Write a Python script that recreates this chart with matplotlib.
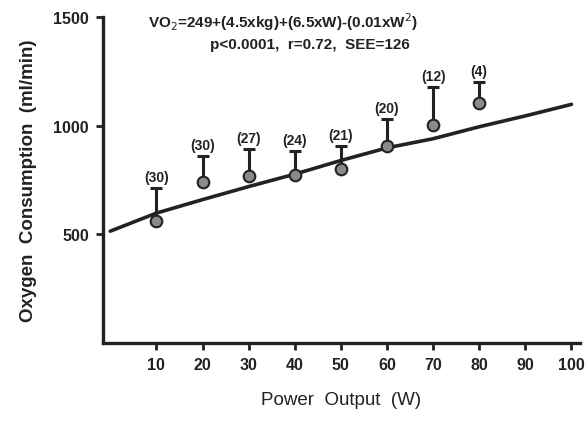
import numpy as np
import matplotlib
matplotlib.use("Agg")
import matplotlib.pyplot as plt

# power output levels (W) and measured VO2 (ml/min)
watts = [10, 20, 30, 40, 50, 60, 70, 80]
vo2_mean = [561, 741, 768, 773, 800, 906, 1003, 1104]
vo2_upper = [713, 860, 892, 883, 906, 1030, 1178, 1200]
n_subj = [30, 30, 27, 24, 21, 20, 12, 4]

# regression line
line_w = [0, 10, 20, 30, 40, 50, 60, 70, 80, 90, 100]
line_vo2 = [515, 598, 660, 720, 777, 840, 898, 940, 995, 1045, 1098]

x_ticks = [10, 20, 30, 40, 50, 60, 70, 80, 90, 100]
y_ticks = [500, 1000, 1500]

ink = "#222222"
plt.rcParams['font.family'] = ['Liberation Sans', 'DejaVu Sans']

fig = plt.figure(figsize=(5.88, 4.27), dpi=100)
ax = fig.add_axes([0.175, 0.194, 0.811, 0.764])

ax.plot(line_w, line_vo2, color=ink, lw=2.6, solid_capstyle='round', zorder=2)

# one sided error bars (upward only)
err = np.array(vo2_upper) - np.array(vo2_mean)
ax.errorbar(watts, vo2_mean, yerr=[np.zeros(len(err)), err], fmt='none',
            ecolor=ink, elinewidth=2.2, capsize=4.5, capthick=2.2, zorder=3)
ax.scatter(watts, vo2_mean, s=70, facecolor='#8a8a8a', edgecolor=ink,
           linewidth=1.5, zorder=4)

for w, top, n in zip(watts, vo2_upper, n_subj):
    ax.annotate("(%d)" % n, (w, top), xytext=(0, 3), textcoords='offset points',
                ha='center', va='bottom', fontsize=10, fontweight='bold', color=ink)

ax.text(0.377, 1.02, "VO$_2$=249+(4.5xkg)+(6.5xW)-(0.01xW$^2$)",
        transform=ax.transAxes, ha='center', va='top', fontsize=11,
        fontweight='bold', color=ink, clip_on=False)
ax.text(0.434, 0.94, "p<0.0001,  r=0.72,  SEE=126",
        transform=ax.transAxes, ha='center', va='top', fontsize=11,
        fontweight='bold', color=ink)

ax.set_xlim(-1.6, 101.8)
ax.set_ylim(0, 1500)
ax.set_xticks(x_ticks)
ax.set_yticks(y_ticks)

for s in ['top', 'right']:
    ax.spines[s].set_visible(False)
for s in ['left', 'bottom']:
    ax.spines[s].set_linewidth(2.4)
    ax.spines[s].set_color(ink)

ax.tick_params(direction='out', length=5, width=2, color=ink,
               labelsize=11.5, labelcolor=ink, pad=5)
for lbl in ax.get_xticklabels() + ax.get_yticklabels():
    lbl.set_fontweight('bold')

ax.set_xlabel("Power  Output  (W)", fontsize=13.5, color=ink, labelpad=14)
ax.set_ylabel("Oxygen  Consumption  (ml/min)", fontsize=13.5, fontweight='bold',
              color=ink, labelpad=12)

fig.savefig("out.png", dpi=100)
